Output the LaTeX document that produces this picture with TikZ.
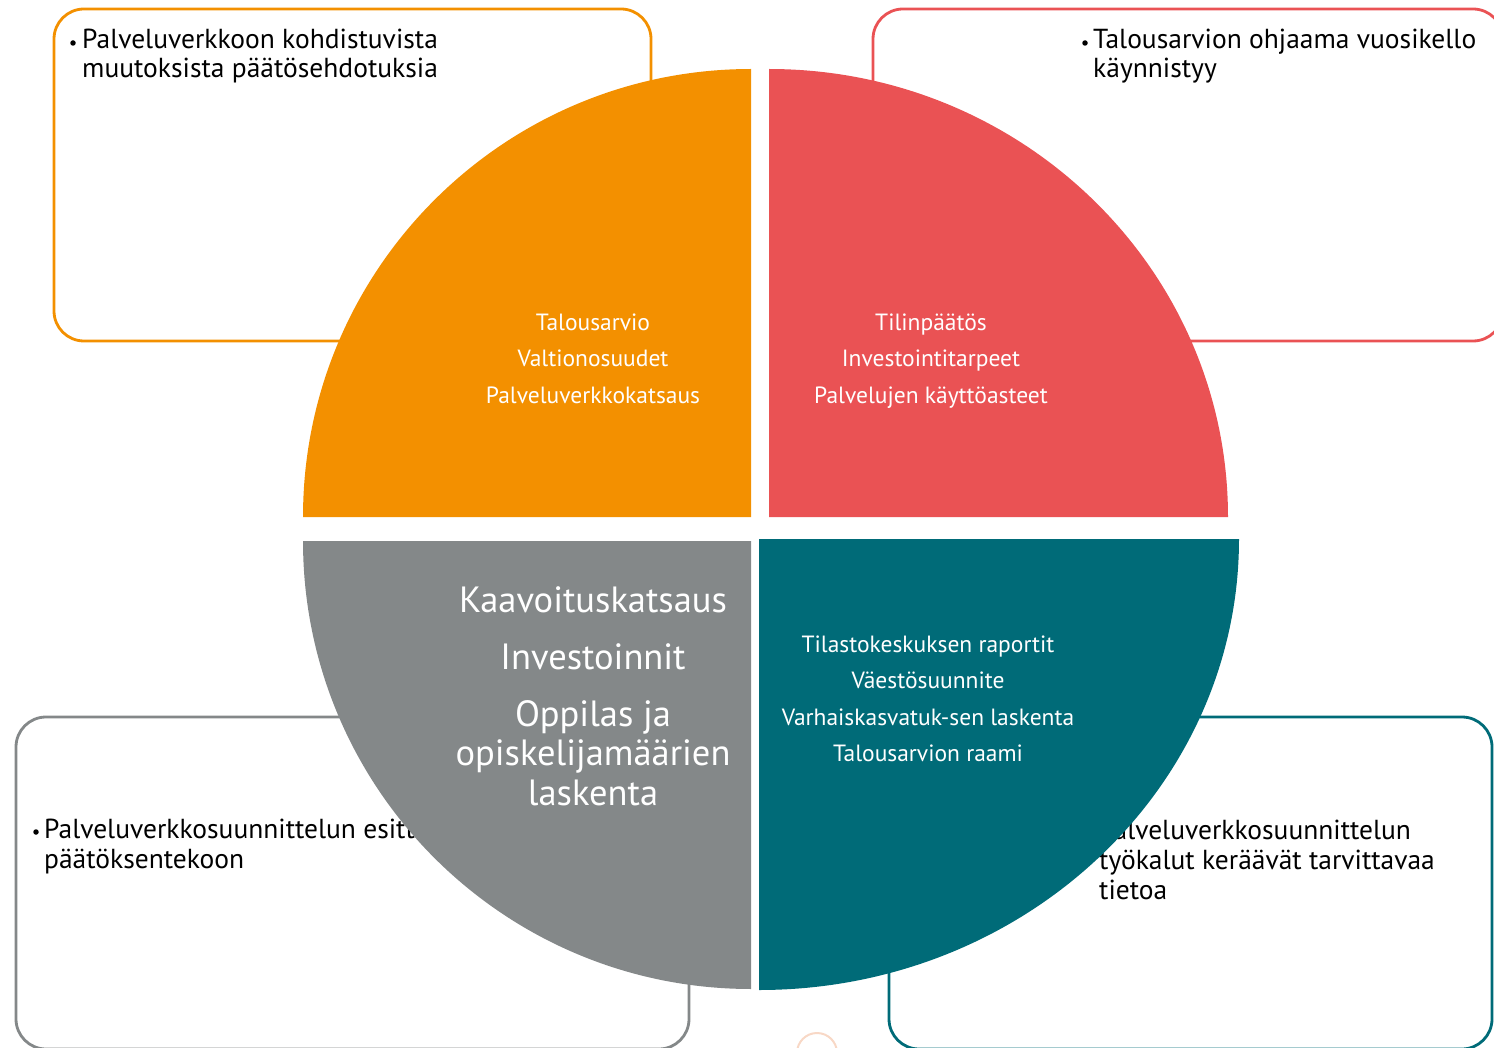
\documentclass[tikz,border=0pt]{standalone}
\usepackage{fontspec}
\setmainfont{PT Sans}
\definecolor{cOr}{HTML}{F39000}
\definecolor{cRd}{HTML}{EA5254}
\definecolor{cGy}{HTML}{848889}
\definecolor{cTl}{HTML}{006B78}
\definecolor{cPe}{HTML}{F8D8C6}
\begin{document}
\begin{tikzpicture}[x=1pt,y=-1pt,
  box/.style={line width=2.8pt,rounded corners=30pt},
  btxt/.style={anchor=base west,inner sep=0pt,font=\fontsize{27.5}{30}\selectfont},
  bul/.style={circle,fill=black,inner sep=0pt,minimum size=5.5pt},
  qs/.style={anchor=base,inner sep=0pt,text=white,font=\fontsize{23.5}{26}\selectfont},
  ql/.style={anchor=base,inner sep=0pt,text=white,font=\fontsize{36.5}{40}\selectfont}]
\useasboundingbox (0,0) rectangle (1494,1048);
\clip (0,0) rectangle (1494,1048);
% boxes
\draw[box,cOr] (54,9) rectangle (651,341);
\draw[box,cRd] (873,9) rectangle (1503,341);
\draw[box,cGy] (16,717) rectangle (689,1049);
\draw[box,cTl] (889,717) rectangle (1492,1049);
% box texts
\node[bul] (ob) at (73,43) {};
\node[btxt] (o1) at (82,49) {Palveluverkkoon kohdistuvista};
\node[btxt] (o2) at (82,78) {muutoksista päätösehdotuksia};
\node[bul] (rb) at (1085,43) {};
\node[btxt] (r1) at (1093,49) {Talousarvion ohjaama vuosikello};
\node[btxt] (r2) at (1093,78) {käynnistyy};
\node[bul] (gb) at (36,832) {};
\node[btxt] (g1) at (44,838) {Palveluverkkosuunnittelun esittely};
\node[btxt] (g2) at (44,868) {päätöksentekoon};
\node[bul] (tb) at (1090,833) {};
\node[btxt] (t1) at (1099,839) {Palveluverkkosuunnittelun};
\node[btxt] (t2) at (1099,869) {työkalut keräävät tarvittavaa};
\node[btxt] (t3) at (1099,899) {tietoa};
% quarters
\fill[cOr] (751,517) -- (303,517) arc[start angle=180,end angle=270,radius=448] -- cycle;
\fill[cRd] (769,517) -- (769,69) arc[start angle=270,end angle=360,x radius=459,y radius=448] -- cycle;
\fill[cTl] (759,539) -- (1239,539) arc[start angle=0,end angle=90,x radius=480,y radius=451] -- cycle;
\fill[cGy] (751,541) -- (751,989) arc[start angle=90,end angle=180,radius=448] -- cycle;
% quarter texts
\node[qs] (qo1) at (593,331) {Talousarvio};
\node[qs] (qo2) at (593,367) {Valtionosuudet};
\node[qs] (qo3) at (593,403) {Palveluverkkokatsaus};
\node[qs] (qr1) at (931,331) {Tilinpäätös};
\node[qs] (qr2) at (931,367) {Investointitarpeet};
\node[qs] (qr3) at (931,403) {Palvelujen käyttöasteet};
\node[ql] (qg1) at (593,612) {Kaavoituskatsaus};
\node[ql] (qg2) at (593,669) {Investoinnit};
\node[ql] (qg3) at (593,726) {Oppilas ja};
\node[ql] (qg4) at (593,765) {opiskelijamäärien};
\node[ql] (qg5) at (593,805) {laskenta};
\node[qs] (qt1) at (928,652) {Tilastokeskuksen raportit};
\node[qs] (qt2) at (928,688) {Väestösuunnite};
\node[qs] (qt3) at (928,725) {Varhaiskasvatuk-sen laskenta};
\node[qs] (qt4) at (928,761) {Talousarvion raami};
% small circle
\draw[cPe,line width=2pt] (817,1053) circle (20);
\end{tikzpicture}
\end{document}
